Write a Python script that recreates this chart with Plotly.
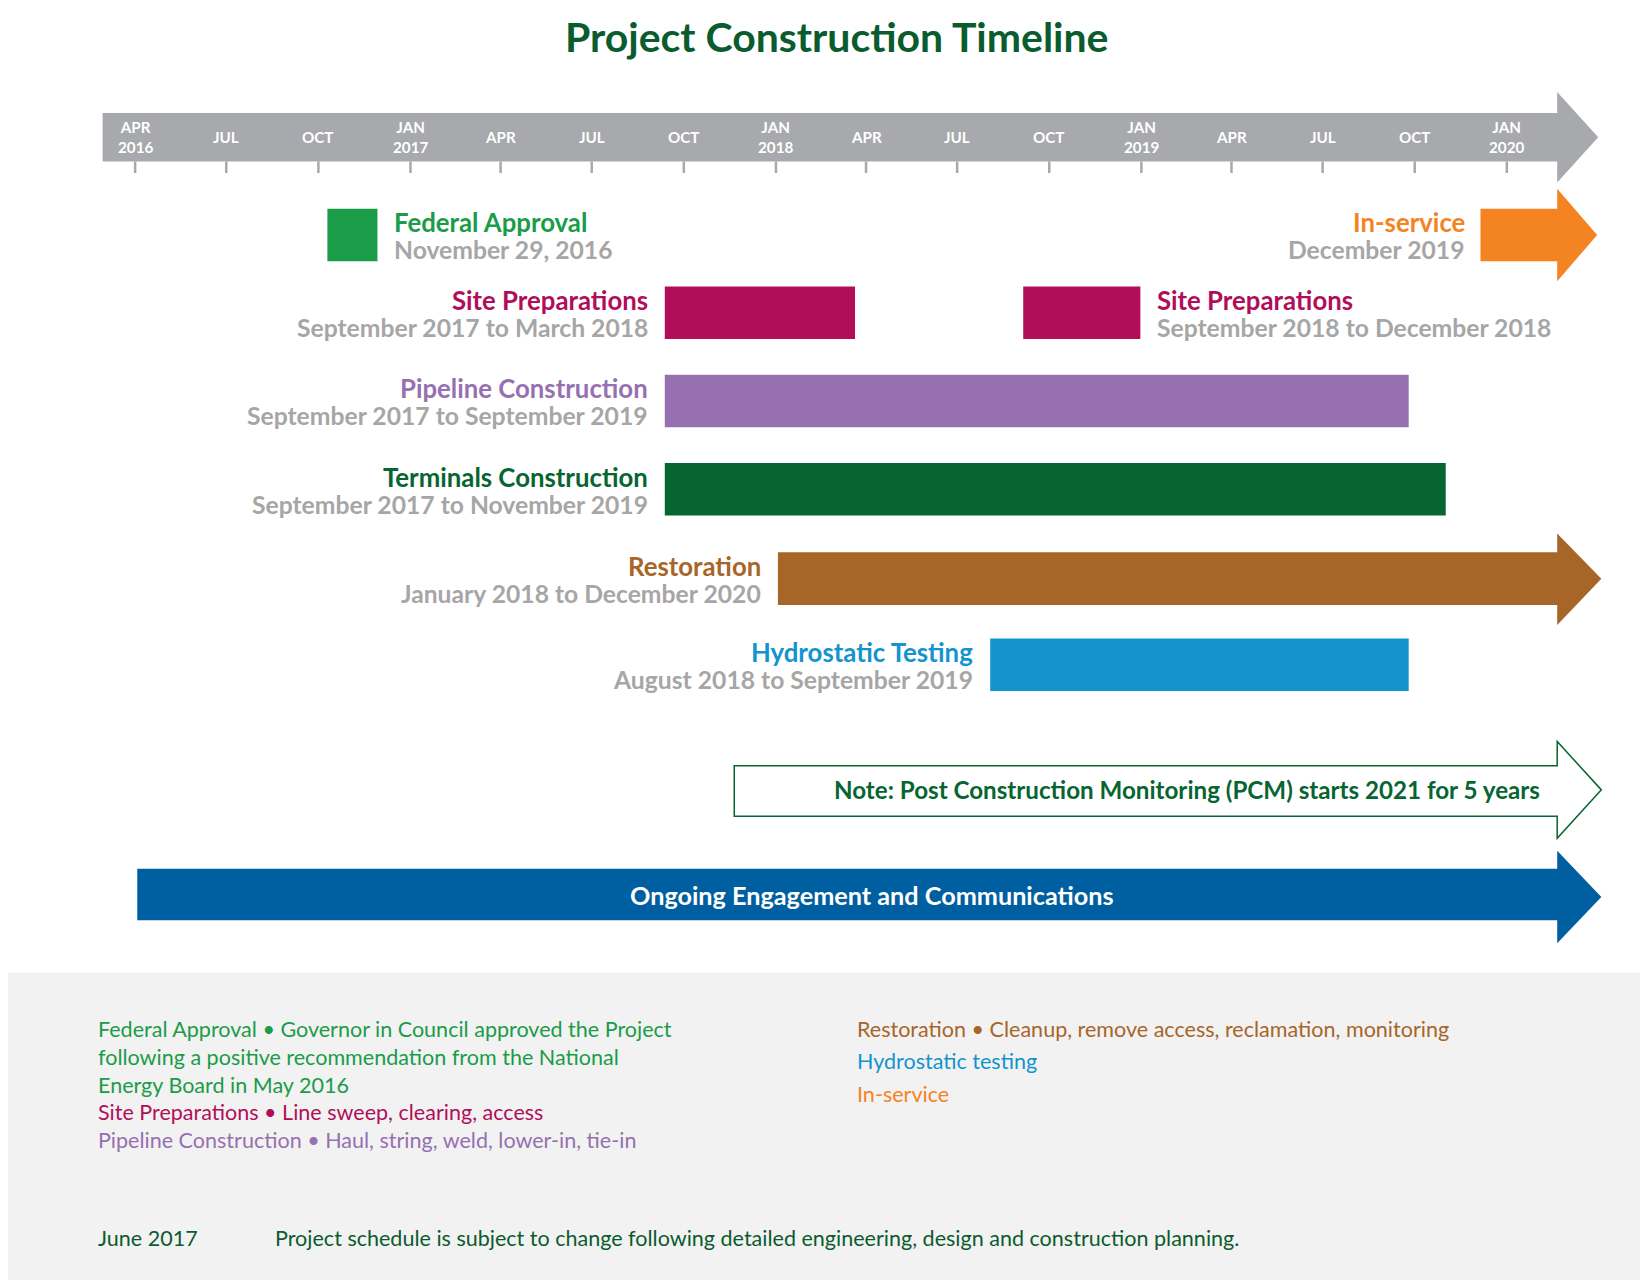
import plotly.graph_objects as go
from datetime import date, timedelta

W, H = 1648, 1280
DW, DH = 1568, 1218  # design units
S = W / DW

tick_dates = ["2016-04-01","2016-07-01","2016-10-01","2017-01-01","2017-04-01","2017-07-01","2017-10-01",
              "2018-01-01","2018-04-01","2018-07-01","2018-10-01","2019-01-01","2019-04-01","2019-07-01",
              "2019-10-01","2020-01-01"]
tick_labels = ["APR<br>2016","JUL","OCT","JAN<br>2017","APR","JUL","OCT","JAN<br>2018","APR","JUL","OCT",
               "JAN<br>2019","APR","JUL","OCT","JAN<br>2020"]

tasks = ["Federal Approval","Site Preparations","Site Preparations","Pipeline Construction",
         "Terminals Construction","Restoration","Hydrostatic Testing"]
subtitles = ["November 29, 2016","September 2017 to March 2018","September 2018 to December 2018",
             "September 2017 to September 2019","September 2017 to November 2019",
             "January 2018 to December 2020","August 2018 to September 2019"]
starts = ["2016-10-10","2017-09-12","2018-09-05","2017-09-12","2017-09-12","2018-01-03","2018-08-03"]
ends = ["2016-11-29","2018-03-21","2018-12-31","2019-09-25","2019-11-01","2020-02-21","2019-09-25"]
colors = ["#1a9c48","#b10e5a","#b10e5a","#9670b0","#066531","#a86528","#1394cf"]
rows_y = [216, 290, 374, 458, 543, 625]
task_row = [0, 1, 1, 2, 3, 4, 5]
label_side = ["right","left","right","left","left","left","left"]

d0, d1 = date(2016,4,1), date(2020,1,1)
ppd = (1426-121)/(d1-d0).days
xmin = d0 - timedelta(days=121/ppd)
xmax = d0 + timedelta(days=(DW-121)/ppd)

def px(x):
    return x/DW

fig = go.Figure()
fig.add_trace(go.Scatter(x=[tick_dates[0]], y=[-10], mode="markers", marker=dict(opacity=0), showlegend=False, hoverinfo="skip"))
shapes, ann = [], []
gray = "#a7a9ac"
FONT = "Lato"

shapes.append(dict(type="rect", xref="paper", yref="y", x0=0, x1=1, y0=918, y1=DH, fillcolor="#f2f2f2", line_width=0, layer="below"))
shapes.append(dict(type="path", xref="paper", yref="y",
    path=f"M {px(90)},100 L {px(1474)},100 L {px(1474)},80 L {px(1513)},123 L {px(1474)},166 L {px(1474)},146 L {px(90)},146 Z",
    fillcolor=gray, line_width=0))
for d, l in zip(tick_dates, tick_labels):
    shapes.append(dict(type="line", xref="x", yref="y", x0=d, x1=d, y0=146, y1=157, line=dict(color=gray, width=2.5)))
    ann.append(dict(x=d, y=123, xref="x", yref="y", text=f"<b>{l}</b>", showarrow=False,
                    font=dict(family=FONT, size=14.5*S, color="white"), yanchor="middle"))

for i, t in enumerate(tasks):
    yc = rows_y[task_row[i]]
    shapes.append(dict(type="rect", xref="x", yref="y", x0=starts[i], x1=ends[i], y0=yc-25, y1=yc+25,
                       fillcolor=colors[i], line_width=0))
    if label_side[i] == "left":
        xa, anchor, shift, align = starts[i], "right", -14, "right"
    else:
        xa, anchor, shift, align = ends[i], "left", 14, "left"
    ann.append(dict(x=xa, y=yc-12, xref="x", yref="y", xanchor=anchor, xshift=shift*S, align=align,
                    text=f"<b>{t}</b>", showarrow=False, font=dict(family=FONT, size=24.5*S, color=colors[i])))
    ann.append(dict(x=xa, y=yc+14, xref="x", yref="y", xanchor=anchor, xshift=shift*S, align=align,
                    text=f"<b>{subtitles[i]}</b>", showarrow=False, font=dict(family=FONT, size=23.5*S, color="#a6a6a6")))

shapes.append(dict(type="path", xref="paper", yref="y",
    path=f"M {px(1474)},500 L {px(1516)},543 L {px(1474)},587 Z", fillcolor=colors[5], line_width=0))
shapes.append(dict(type="path", xref="paper", yref="y",
    path=f"M {px(1401)},191 L {px(1474)},191 L {px(1474)},172 L {px(1512)},216 L {px(1474)},260 L {px(1474)},241 L {px(1401)},241 Z",
    fillcolor="#f48322", line_width=0))
ann.append(dict(x=px(1388), y=204, xref="paper", yref="y", xanchor="right", text="<b>In-service</b>", showarrow=False,
                font=dict(family=FONT, size=24.5*S, color="#f48322")))
ann.append(dict(x=px(1388), y=230, xref="paper", yref="y", xanchor="right", text="<b>December 2019</b>", showarrow=False,
                font=dict(family=FONT, size=23.5*S, color="#a6a6a6")))
shapes.append(dict(type="path", xref="paper", yref="y",
    path=f"M {px(691)},721 L {px(1474)},721 L {px(1474)},698 L {px(1516)},744 L {px(1474)},790 L {px(1474)},769 L {px(691)},769 Z",
    fillcolor="white", line=dict(color="#066531", width=1.5)))
ann.append(dict(x=px(1460), y=744, xref="paper", yref="y", xanchor="right",
                text="<b>Note: Post Construction Monitoring (PCM) starts 2021 for 5 years</b>", showarrow=False,
                font=dict(family=FONT, size=23*S, color="#066531")))
shapes.append(dict(type="path", xref="paper", yref="y",
    path=f"M {px(123)},819 L {px(1474)},819 L {px(1474)},802 L {px(1516)},846 L {px(1474)},890 L {px(1474)},868 L {px(123)},868 Z",
    fillcolor="#005fa0", line_width=0))
ann.append(dict(x=px(822), y=844, xref="paper", yref="y", text="<b>Ongoing Engagement and Communications</b>",
                showarrow=False, font=dict(family=FONT, size=24*S, color="white")))

ann.append(dict(x=px(788), y=27, xref="paper", yref="y", text="<b>Project Construction Timeline</b>", showarrow=False,
                font=dict(family=FONT, size=39*S, color="#0a5c2e")))

def foot(x, y, parts):
    text = "".join(f"<span style='color:{c}'>{t}</span>" for t, c in parts)
    ann.append(dict(x=px(x), y=y, xref="paper", yref="y", xanchor="left", yanchor="top", align="left",
                    text=text, showarrow=False, font=dict(family=FONT, size=20.5*S)))

foot(84, 957, [("Federal Approval • Governor in Council approved the Project<br>following a positive recommendation from the National<br>Energy Board in May 2016", "#1a9c48")])
foot(84, 1036, [("Site Preparations • Line sweep, clearing, access", "#b10e5a")])
foot(84, 1063, [("Pipeline Construction • Haul, string, weld, lower-in, tie-in", "#9670b0")])
foot(806, 957, [("Restoration • Cleanup, remove access, reclamation, monitoring", "#a86528")])
foot(806, 988, [("Hydrostatic testing", "#1394cf")])
foot(806, 1019, [("In-service", "#f48322")])
foot(84, 1156, [("June 2017", "#0a5c2e")])
foot(252, 1156, [("Project schedule is subject to change following detailed engineering, design and construction planning.", "#0a5c2e")])

fig.update_layout(width=W, height=H, margin=dict(l=0, r=0, t=0, b=0), plot_bgcolor="white", paper_bgcolor="white",
                  shapes=shapes, annotations=ann, showlegend=False,
                  xaxis=dict(type="date", range=[xmin.isoformat(), xmax.isoformat()], visible=False, fixedrange=True),
                  yaxis=dict(range=[DH, 0], visible=False, fixedrange=True))
fig.write_html("out.html")
